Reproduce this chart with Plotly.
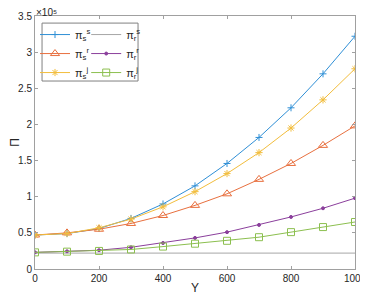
import plotly.graph_objects as go

Y = [0, 100, 200, 300, 400, 500, 600, 700, 800, 900, 1000]
pi_s_s = [47000, 49000, 56000, 70000, 90000, 115000, 146000, 182000, 223000, 270000, 322000]
pi_s_r = [47000, 50000, 55000, 63000, 74000, 88000, 104000, 124000, 146000, 171000, 198000]
pi_s_j = [47000, 49000, 57000, 69000, 86000, 107000, 132000, 161000, 195000, 234000, 277000]
pi_r_s = [22000] * 11
pi_r_r = [23000, 24500, 26000, 30000, 36000, 43000, 51000, 61000, 72000, 84000, 98000]
pi_r_j = [23000, 24000, 25000, 27000, 31000, 35000, 39000, 44000, 51000, 58000, 65000]

x_ticks = [0, 200, 400, 600, 800, 1000]
y_ticks = [0, 0.5, 1, 1.5, 2, 2.5, 3, 3.5]
scale = 1e5

FONT = "Liberation Sans, Arial, sans-serif"

series = [
    ("π<sub>s</sub><sup>s</sup>", pi_s_s, "#2f8fd6", "cross-thin", 5, "legend"),
    ("π<sub>s</sub><sup>r</sup>", pi_s_r, "#e8703f", "triangle-up-open", 8, "legend"),
    ("π<sub>s</sub><sup>j</sup>", pi_s_j, "#f2bd3c", "asterisk-open", 6, "legend"),
    ("π<sub>r</sub><sup>s</sup>", pi_r_s, "#a6a6a6", None, 0, "legend2"),
    ("π<sub>r</sub><sup>r</sup>", pi_r_r, "#8b3f9c", "circle", 3, "legend2"),
    ("π<sub>r</sub><sup>j</sup>", pi_r_j, "#8cbf4f", "square-open", 7, "legend2"),
]

fig = go.Figure()
for name, vals, col, sym, size, lg in series:
    kw = {}
    if sym is None:
        mode = "lines"
    else:
        mode = "lines+markers"
        kw["marker"] = dict(symbol=sym, size=size, color=col, line=dict(color=col, width=1))
    fig.add_trace(go.Scatter(
        x=Y, y=[v / scale for v in vals], name=name, mode=mode,
        line=dict(color=col, width=1), legend=lg, **kw))

axis_common = dict(
    showgrid=False, zeroline=False, showline=True, linecolor="#a0a0a0", linewidth=1,
    mirror="ticks", ticks="inside", ticklen=3, tickcolor="#a0a0a0", automargin=False,
    tickfont=dict(family=FONT, size=10, color="#262626"),
)
fig.update_xaxes(range=[0, 1000], tickvals=x_ticks,
                 title=dict(text="Y", font=dict(family=FONT, size=12, color="#262626"), standoff=0), **axis_common)
fig.update_yaxes(range=[0, 3.5], tickvals=y_ticks, ticktext=[("%g" % v) for v in y_ticks],
                 title=dict(text="Π", font=dict(family=FONT, size=12, color="#262626"), standoff=4), **axis_common)

leg_common = dict(bgcolor="rgba(0,0,0,0)", borderwidth=0, font=dict(family=FONT, size=11, color="#262626"),
                  xanchor="left", yanchor="top", tracegroupgap=0, itemwidth=30)
fig.update_layout(
    width=360, height=287,
    margin=dict(l=27, r=13, t=8, b=26),
    paper_bgcolor="white", plot_bgcolor="white",
    showlegend=True,
    legend=dict(x=0.0, y=0.984, **leg_common),
    legend2=dict(x=0.16, y=0.984, **leg_common),
    shapes=[dict(type="rect", xref="paper", yref="paper", x0=0.022, x1=0.322, y0=0.743, y1=0.972,
                 line=dict(color="#808080", width=1), fillcolor="rgba(0,0,0,0)")],
    annotations=[dict(text="×10⁵", xref="paper", yref="paper", x=0, y=1, xanchor="left",
                      yanchor="bottom", yshift=-3, borderpad=0, showarrow=False,
                      font=dict(family=FONT, size=10, color="#262626"))],
)
fig.write_html("out.html")
